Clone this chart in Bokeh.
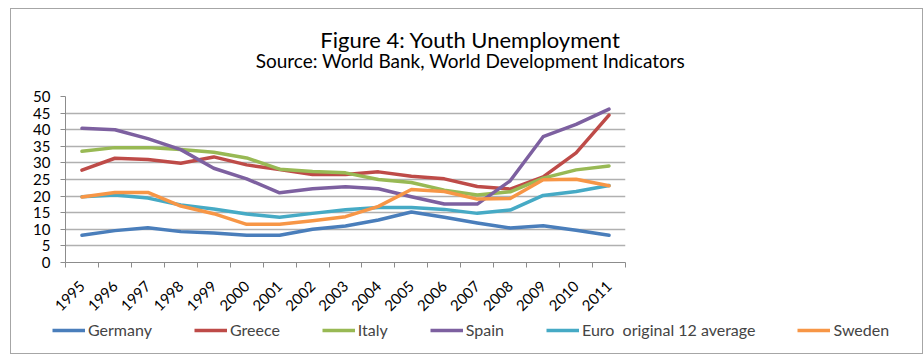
import math
from bokeh.plotting import figure
from bokeh.layouts import column
from bokeh.models import (FixedTicker, Range1d, Legend, LegendItem, Label,
                          ColumnDataSource, CustomJSTickFormatter)
from bokeh.embed import file_html
from bokeh.resources import INLINE

years = ["1995", "1996", "1997", "1998", "1999", "2000", "2001", "2002", "2003",
         "2004", "2005", "2006", "2007", "2008", "2009", "2010", "2011"]
germany = [8.2, 9.6, 10.5, 9.3, 8.9, 8.2, 8.2, 10.0, 11.0, 12.8, 15.2, 13.6, 11.9, 10.4, 11.1, 9.7, 8.2]
greece = [27.8, 31.4, 31.0, 29.9, 31.8, 29.4, 28.0, 26.5, 26.5, 27.3, 26.0, 25.2, 22.9, 22.1, 25.8, 33.0, 44.4]
italy = [33.5, 34.6, 34.6, 34.0, 33.2, 31.5, 28.1, 27.4, 27.0, 25.0, 24.1, 21.8, 20.3, 21.3, 25.4, 27.9, 29.1]
spain = [40.4, 40.0, 37.3, 34.0, 28.4, 25.2, 21.0, 22.2, 22.8, 22.2, 19.8, 17.6, 17.6, 24.6, 37.9, 41.6, 46.2]
euro12 = [19.8, 20.3, 19.4, 17.3, 16.1, 14.6, 13.6, 14.8, 15.9, 16.6, 16.6, 16.0, 14.8, 15.8, 20.2, 21.4, 23.2]
sweden = [19.7, 21.1, 21.1, 17.0, 14.7, 11.5, 11.5, 12.6, 13.8, 16.9, 22.0, 21.4, 19.1, 19.3, 24.9, 25.1, 23.1]
series_names = ["Germany", "Greece", "Italy", "Spain", "Euro  original 12 average", "Sweden"]
series_colors = ["#4A7EBB", "#BE4B48", "#98B954", "#7D60A0", "#46AAC5", "#F79646"]
y_ticks = [0, 5, 10, 15, 20, 25, 30, 35, 40, 45, 50]
title_text = "Figure 4: Youth Unemployment"
subtitle_text = "Source: World Bank, World Development Indicators"

FONT = "Lato"
n = len(years)
xpos = [i + 0.5 for i in range(n)]


def strip(height):
    f = figure(width=911, height=height, output_backend="svg", toolbar_location=None,
               x_range=Range1d(100, 101), y_range=Range1d(100, 101), title=None,
               x_axis_location=None, y_axis_location=None,
               min_border_left=0, min_border_right=0, min_border_top=0, min_border_bottom=0)
    f.frame_align = False
    f.outline_line_color = None
    f.xgrid.grid_line_color = None
    f.ygrid.grid_line_color = None
    f.background_fill_color = "white"
    f.border_fill_color = "white"
    return f


# title strip
ts = strip(77)
ts.add_layout(Label(x=459, y=47, x_units="screen", y_units="screen", text=title_text,
                    text_align="center", text_baseline="alphabetic", text_font=FONT,
                    text_font_size="22px", text_color="#000000"))
ts.add_layout(Label(x=459, y=26, x_units="screen", y_units="screen", text=subtitle_text,
                    text_align="center", text_baseline="alphabetic", text_font=FONT,
                    text_font_size="19px", text_color="#000000"))

# main chart
p = figure(width=911, height=233, output_backend="svg", toolbar_location=None,
           x_range=Range1d(0, n), y_range=Range1d(0, 50), title=None,
           min_border_left=54, min_border_right=297, min_border_top=10, min_border_bottom=57)
p.frame_align = False
p.outline_line_color = None
p.background_fill_color = "white"
p.border_fill_color = "white"

p.yaxis.ticker = FixedTicker(ticks=y_ticks)
p.yaxis.axis_line_color = "#8c8c8c"
p.yaxis.major_tick_line_color = "#8c8c8c"
p.yaxis.major_tick_out = 5
p.yaxis.major_tick_in = 0
p.yaxis.minor_tick_line_color = None
p.yaxis.major_label_text_font = FONT
p.yaxis.major_label_text_font_size = "15px"
p.yaxis.major_label_text_color = "#000000"
p.yaxis.major_label_standoff = 10

p.xaxis.ticker = FixedTicker(ticks=xpos, minor_ticks=list(range(n + 1)))
labels_js = "{" + ",".join(f"{i}: '{y}'" for i, y in enumerate(years)) + "}"
p.xaxis.formatter = CustomJSTickFormatter(code=f"const L = {labels_js}; return L[Math.floor(tick)];")
p.xaxis.axis_line_color = "#8c8c8c"
p.xaxis.major_tick_line_color = None
p.xaxis.minor_tick_line_color = "#8c8c8c"
p.xaxis.minor_tick_out = 5
p.xaxis.minor_tick_in = 0
p.xaxis.major_label_orientation = math.pi / 4
p.xaxis.major_label_text_font = FONT
p.xaxis.major_label_text_font_size = "15px"
p.xaxis.major_label_text_color = "#000000"
p.xaxis.major_label_standoff = 15

p.xgrid.grid_line_color = None
p.ygrid.ticker = FixedTicker(ticks=y_ticks)
p.ygrid.grid_line_color = "#b0b0b0"
p.ygrid.grid_line_width = 1.5

all_vals = [germany, greece, italy, spain, euro12, sweden]
sources = []
for name, vals, col in zip(series_names, all_vals, series_colors):
    src = ColumnDataSource(dict(x=xpos, y=vals))
    sources.append(src)
    p.line("x", "y", source=src, line_color=col, line_width=3.5, line_join="round", line_cap="round")

# legend strip below the chart (its lines are out of its visible range; only the key is shown)
lg = strip(34)
items = []
for name, col, src in zip(series_names, series_colors, sources):
    r = lg.line("x", "y", source=src, line_color=col, line_width=3.5)
    items.append(LegendItem(label=name, renderers=[r]))
legend = Legend(items=items, orientation="horizontal", location=(41, 14),
                glyph_width=33, glyph_height=16, label_standoff=3, spacing=42,
                padding=0, margin=0, border_line_color=None, background_fill_alpha=0,
                label_text_font=FONT, label_text_font_size="16px", label_height=16)
lg.add_layout(legend, "center")

layout = column(ts, p, lg, spacing=0,
                styles={"border": "1px solid #a6a6a6", "margin-left": "10px", "margin-top": "8px"})

open("out.html", "w").write(file_html(layout, INLINE))
